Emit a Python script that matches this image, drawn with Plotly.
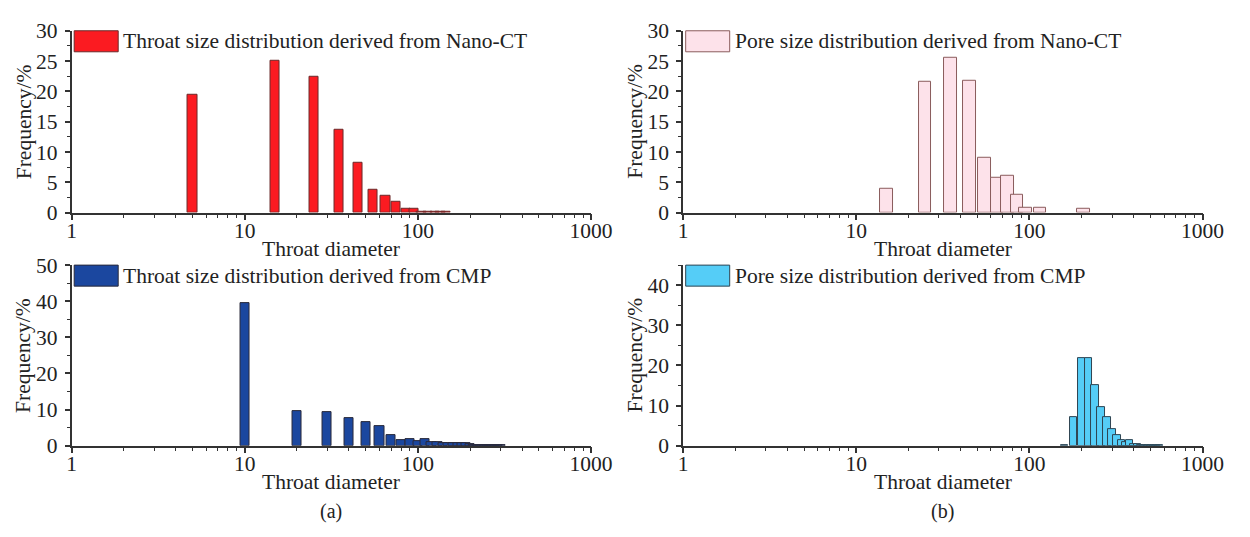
import numpy as np
import plotly.graph_objects as go

# ---------------- data ----------------
throat_ct_d = [5, 15, 25, 35, 45, 55, 65, 75, 85, 95, 105, 115, 125, 135, 145]
throat_ct_f = [19.4, 25.0, 22.4, 13.6, 8.2, 3.8, 2.8, 1.7, 0.6, 0.6, 0.15, 0.1, 0.1, 0.05, 0.05]

pore_ct_d = [15, 25, 35, 45, 55, 65, 75, 85, 95, 115, 205]
pore_ct_f = [3.9, 21.6, 25.6, 21.8, 9.0, 5.7, 6.0, 2.9, 0.8, 0.8, 0.6]

throat_cmp_d = [10, 20, 30, 40, 50, 60, 70, 80, 90, 100, 110, 120, 130, 140, 150,
                160, 170, 180, 190, 200, 210, 220, 230, 240, 250, 260, 270, 280, 290, 300]
throat_cmp_f = [39.5, 9.6, 9.3, 7.6, 6.6, 5.5, 3.0, 1.5, 1.7, 1.4, 1.7, 1.0, 1.0, 0.8, 0.8,
                0.7, 0.7, 0.7, 0.6, 0.4, 0.2, 0.15, 0.1, 0.1, 0.1, 0.1, 0.1, 0.1, 0.1, 0.1]

pore_cmp_d = [160, 180, 200, 220, 240, 260, 280, 300, 320, 340, 360, 380, 400, 420,
              440, 460, 480, 500, 520, 540, 560]
pore_cmp_f = [0.15, 7.2, 21.8, 21.7, 15.0, 9.5, 7.0, 4.2, 2.6, 1.4, 1.0, 1.5, 0.5, 0.3,
              0.2, 0.2, 0.15, 0.1, 0.1, 0.05, 0.05]

legend_labels = ["Throat size distribution derived from Nano-CT",
                 "Pore size distribution derived from Nano-CT",
                 "Throat size distribution derived from CMP",
                 "Pore size distribution derived from CMP"]
x_title = "Throat diameter"
y_title = "Frequency/%"
panel_labels = ["(a)", "(b)"]
x_tickvals = [1, 10, 100, 1000]
x_ticktext = ["1", "10", "100", "1000"]

# ---------------- style ----------------
W, H = 1250, 537
FONT = "Liberation Serif, Times New Roman, serif"
TXT = "#222222"
AX = "#333333"
FS = 21.5

fills = ["#fb1b21", "#fde2ea", "#1b479f", "#55cdf7"]
lines = ["#6a2a2a", "#8a5c5c", "#2a2a3a", "#2f4452"]
logw = [0.053, 0.073, 0.054, 0.043]

# pixel layout
left_x = (68, 599)
right_x = (693, 1224)
top_y = (20.7, 211)
bot_y = (266, 455)


def px(x):
    return x / W


def py(y):
    return 1 - y / H


fig = go.Figure()

panels = [
    (throat_ct_d, throat_ct_f, "x", "y"),
    (pore_ct_d, pore_ct_f, "x2", "y2"),
    (throat_cmp_d, throat_cmp_f, "x3", "y3"),
    (pore_cmp_d, pore_cmp_f, "x4", "y4"),
]

for i, (d, f, xa, ya) in enumerate(panels):
    d = np.asarray(d, float)
    lo = d * 10 ** (-logw[i] / 2)
    hi = d * 10 ** (logw[i] / 2)
    fig.add_trace(go.Bar(
        x=d, y=f, width=hi - lo, offset=lo - d,
        marker=dict(color=fills[i], line=dict(color=lines[i], width=1)),
        xaxis=xa, yaxis=ya, showlegend=False, name=legend_labels[i],
    ))

minor_x = [m * 10 ** k for k in range(3) for m in range(2, 10)]


def xaxis(dom, anchor):
    return dict(
        domain=[px(dom[0]), px(dom[1])], anchor=anchor, type="log", range=[0, 3],
        tickmode="array", tickvals=x_tickvals, ticktext=x_ticktext,
        ticks="outside", ticklen=6, tickwidth=1.5, tickcolor=AX,
        ticklabelstandoff=-8,
        minor=dict(ticks="outside", ticklen=4, tickwidth=1.2, tickcolor=AX,
                   tickmode="array", tickvals=minor_x, showgrid=False),
        showline=True, linecolor=AX, linewidth=1.5, showgrid=False, zeroline=False,
        tickfont=dict(family=FONT, size=FS, color=TXT), fixedrange=True,
    )


def yaxis(dom, anchor, rng, dtick):
    return dict(
        domain=[py(dom[1]), py(dom[0])], anchor=anchor, range=rng,
        tickmode="linear", tick0=0, dtick=dtick,
        ticks="outside", ticklen=5, tickwidth=1.5, tickcolor=AX,
        ticklabelstandoff=3,
        minor=dict(ticks="outside", ticklen=3, tickwidth=1.2, tickcolor=AX,
                   tick0=0, dtick=dtick / 2, showgrid=False),
        showline=True, linecolor=AX, linewidth=1.5, showgrid=False, zeroline=False,
        tickfont=dict(family=FONT, size=FS, color=TXT), fixedrange=True,
    )


fig.update_layout(
    width=W, height=H, margin=dict(l=0, r=0, t=0, b=0),
    paper_bgcolor="white", plot_bgcolor="white",
    bargap=0, showlegend=False,
    font=dict(family=FONT, size=FS, color=TXT),
    xaxis=xaxis(left_x, "y"), yaxis=yaxis(top_y, "x", [0, 30], 5),
    xaxis2=xaxis(right_x, "y2"), yaxis2=yaxis(top_y, "x2", [0, 30], 5),
    xaxis3=xaxis(left_x, "y3"), yaxis3=yaxis(bot_y, "x3", [0, 50], 10),
    xaxis4=xaxis(right_x, "y4"), yaxis4=yaxis(bot_y, "x4", [0, 45], 10),
)

shapes = []
annotations = []
legend_pos = [(left_x, top_y), (right_x, top_y), (left_x, bot_y), (right_x, bot_y)]
for i, (xd, yd) in enumerate(legend_pos):
    sx0 = xd[0] + 2.7
    sx1 = sx0 + 45
    sy0 = yd[0]
    sy1 = yd[0] + 22
    shapes.append(dict(type="rect", xref="paper", yref="paper",
                       x0=px(sx0), x1=px(sx1), y0=py(sy1), y1=py(sy0),
                       fillcolor=fills[i], line=dict(color=lines[i], width=1)))
    annotations.append(dict(text=legend_labels[i], xref="paper", yref="paper",
                            x=px(sx1 + 3), y=py((sy0 + sy1) / 2), xanchor="left",
                            yanchor="middle", showarrow=False,
                            font=dict(family=FONT, size=FS, color=TXT)))
    # axis titles
    annotations.append(dict(text=x_title, xref="paper", yref="paper",
                            x=px((xd[0] + xd[1]) / 2), y=py(yd[1] + 38),
                            xanchor="center", yanchor="middle", showarrow=False,
                            font=dict(family=FONT, size=FS, color=TXT)))
    annotations.append(dict(text=y_title, xref="paper", yref="paper", textangle=-90,
                            x=px(xd[0] - 49), y=py((yd[0] + yd[1]) / 2),
                            xanchor="center", yanchor="middle", showarrow=False,
                            font=dict(family=FONT, size=FS, color=TXT)))

for lab, xd in zip(panel_labels, [left_x, right_x]):
    annotations.append(dict(text=lab, xref="paper", yref="paper",
                            x=px((xd[0] + xd[1]) / 2), y=py(524),
                            xanchor="center", yanchor="middle", showarrow=False,
                            font=dict(family=FONT, size=20, color=TXT)))

fig.update_layout(shapes=shapes, annotations=annotations)
fig.write_html("out.html")
